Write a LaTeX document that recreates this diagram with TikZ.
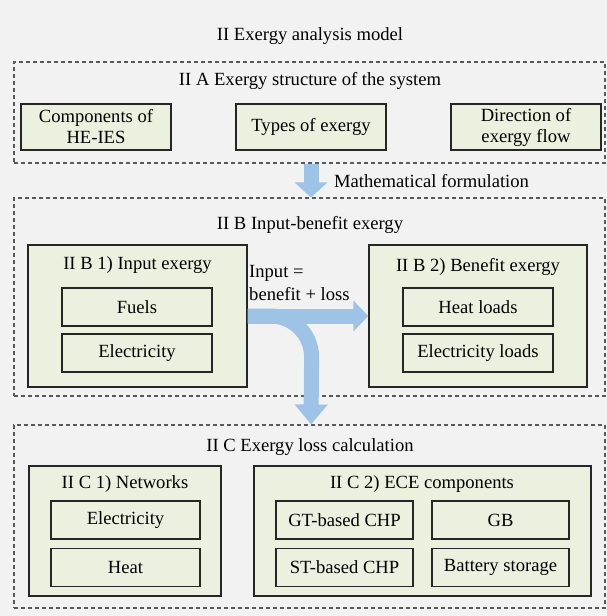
\documentclass[tikz,border=0pt]{standalone}
\usepackage{fontspec}
\setmainfont{Liberation Serif}
\usetikzlibrary{arrows.meta}
\definecolor{pagegray}{HTML}{F2F2F2}
\definecolor{boxgreen}{HTML}{EBF1DE}
\definecolor{flowblue}{HTML}{9DC3E6}
\definecolor{edgegray}{HTML}{262626}
\definecolor{dashgray}{HTML}{595959}
\begin{document}
\begin{tikzpicture}[x=1pt,y=-1pt,
  every node/.style={font=\fontsize{18.6}{21}\selectfont, text=black, inner sep=0pt},
  group/.style={draw=dashgray, dash pattern=on 4pt off 3pt, line width=1.1pt},
  panel/.style={draw=edgegray, fill=boxgreen, line width=1.2pt},
  item/.style={draw=edgegray, fill=boxgreen, line width=1.2pt, align=center,
    minimum height=38pt},
  txt/.style={align=center},
  flow/.style={draw=flowblue, line width=15pt}]
% page background and bounding box
\fill[pagegray] (0,0) rectangle (607,616);
\useasboundingbox (0,0) rectangle (607,616);

\node[txt] (title) at (310,36) {II Exergy analysis model};

% --- II A ---
\node[group, minimum width=591pt, minimum height=101pt] (groupA) at (309.5,112.5) {};
\node[txt] (titleA) at (310,81) {II A Exergy structure of the system};
\node[item, minimum width=150pt, minimum height=46pt] (comp) at (96,127) {Components of\\HE-IES};
\node[item, minimum width=150pt, minimum height=46pt] (types) at (311,127) {Types of exergy};
\node[item, minimum width=150pt, minimum height=46pt] (dir) at (526,127) {Direction of\\exergy flow};

% --- II B ---
\node[group, minimum width=591pt, minimum height=198pt] (groupB) at (309.5,297) {};
\node[txt] (titleB) at (310,225) {II B Input-benefit exergy};
\node[panel, minimum width=219pt, minimum height=142pt] (inbox) at (137.5,316) {};
\node[txt] (inTitle) at (137.5,265) {II B 1) Input exergy};
\node[item, minimum width=150pt] (fuels) at (137,307) {Fuels};
\node[item, minimum width=150pt] (inElec) at (137,353) {Electricity};
\node[panel, minimum width=218pt, minimum height=142pt] (outbox) at (478,316) {};
\node[txt] (outTitle) at (478,267) {II B 2) Benefit exergy};
\node[item, minimum width=150pt] (heatLoads) at (478,307) {Heat loads};
\node[item, minimum width=150pt] (elecLoads) at (478,353) {Electricity loads};
\node[anchor=west, align=left, font=\fontsize{18.6}{23}\selectfont] (balance) at (249,282.5) {Input =\\benefit + loss};

% --- II C ---
\node[group, minimum width=591pt, minimum height=183pt] (groupC) at (309.5,516.5) {};
\node[txt] (titleC) at (310,447) {II C Exergy loss calculation};
\node[panel, minimum width=192pt, minimum height=130pt] (netbox) at (125,531) {};
\node[txt] (netTitle) at (125,484) {II C 1) Networks};
\node[item, minimum width=149pt] (netElec) at (125.5,520) {Electricity};
\node[item, minimum width=149pt] (netHeat) at (125.5,567.5) {Heat};
\node[panel, minimum width=337pt, minimum height=130pt] (ecebox) at (422.5,531) {};
\node[txt] (eceTitle) at (422,484) {II C 2) ECE components};
\node[item, minimum width=137pt] (gt) at (344.5,520) {GT-based CHP};
\node[item, minimum width=137pt] (gb) at (500.5,520) {GB};
\node[item, minimum width=137pt] (st) at (344.5,567.5) {ST-based CHP};
\node[item, minimum width=137pt] (bat) at (500.5,567.5) {Battery storage};

% --- flows ---
\draw[flow, -{Triangle[length=15pt,width=32pt]}]
  (types.south |- groupA.south) -- (types.south |- groupB.north);
\node[anchor=west] (formul) at (334,181.5) {Mathematical formulation};
\draw[flow, -{Triangle[length=15pt,width=30pt]}] (inbox.east) -- (outbox.west);
% branch that bends down towards the loss block
\draw[flow, -{Triangle[length=20pt,width=32pt]}]
  (inbox.east) -- ++(23,0) arc[start angle=-90, end angle=0, radius=41]
  -- (types.south |- groupC.north);
\end{tikzpicture}
\end{document}
